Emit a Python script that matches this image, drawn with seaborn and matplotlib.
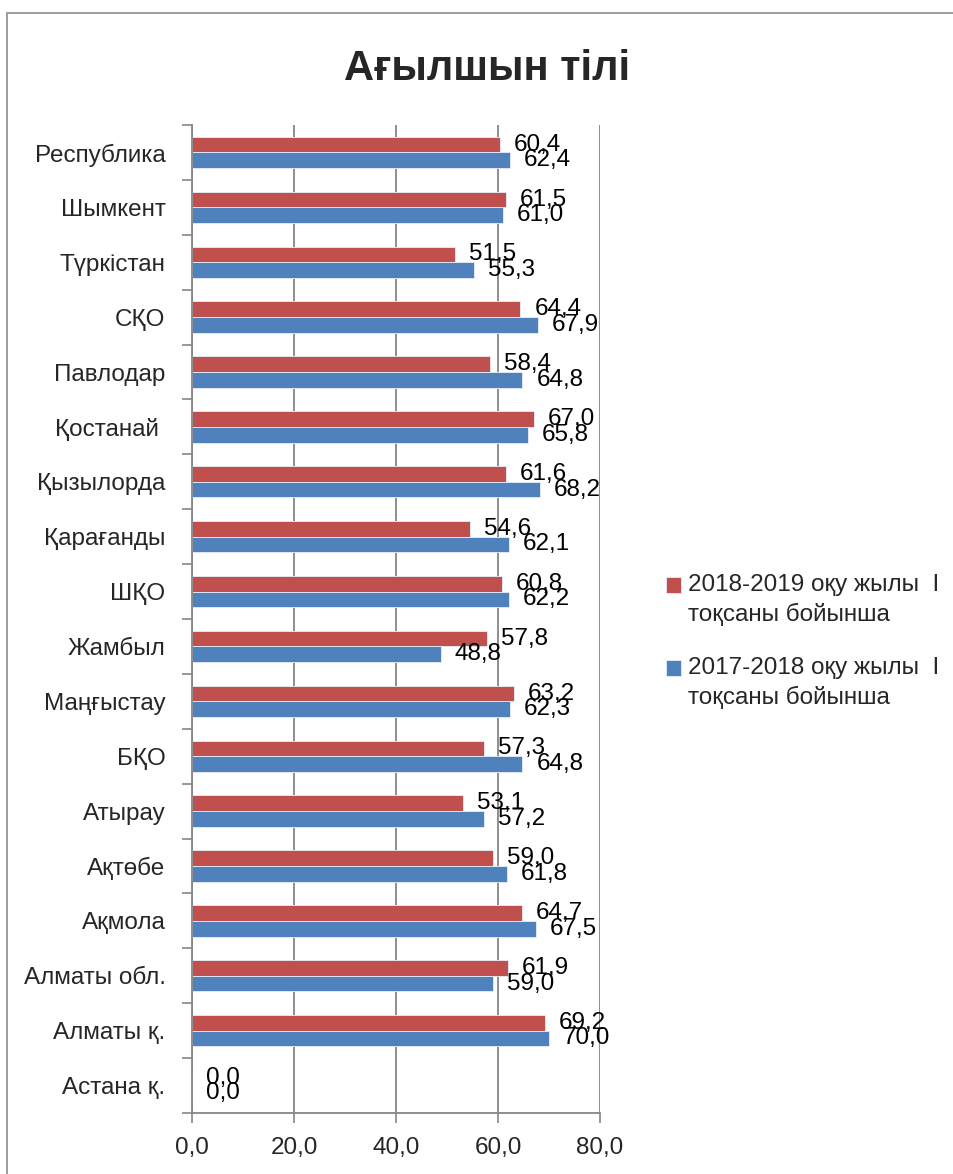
import matplotlib
matplotlib.use("Agg")
import matplotlib.pyplot as plt
import seaborn as sns
import pandas as pd
from matplotlib.patches import Rectangle
from matplotlib.legend_handler import HandlerPatch
from matplotlib.ticker import FixedLocator, FuncFormatter

# ---------------- data ----------------
regions = ["Республика", "Шымкент", "Түркістан", "СҚО", "Павлодар", "Қостанай ",
           "Қызылорда", "Қарағанды", "ШҚО", "Жамбыл", "Маңғыстау", "БҚО",
           "Атырау", "Ақтөбе", "Ақмола", "Алматы обл.", "Алматы қ.", "Астана қ."]
vals_2018_2019 = [60.4, 61.5, 51.5, 64.4, 58.4, 67.0, 61.6, 54.6, 60.8, 57.8,
                  63.2, 57.3, 53.1, 59.0, 64.7, 61.9, 69.2, 0.0]
vals_2017_2018 = [62.4, 61.0, 55.3, 67.9, 64.8, 65.8, 68.2, 62.1, 62.2, 48.8,
                  62.3, 64.8, 57.2, 61.8, 67.5, 59.0, 70.0, 0.0]
series_names = ["2018-2019 оқу жылы  I\nтоқсаны бойынша",
                "2017-2018 оқу жылы  I\nтоқсаны бойынша"]
series_colors = ["#C0504D", "#4F81BD"]
x_ticks = [0, 20, 40, 60, 80]
title = "Ағылшын тілі"

df = pd.DataFrame({
    "region": regions * 2,
    "value": vals_2018_2019 + vals_2017_2018,
    "series": [series_names[0]] * len(regions) + [series_names[1]] * len(regions),
})

# ---------------- style ----------------
sns.set_theme(style="white")
plt.rcParams["font.family"] = ["Liberation Sans", "DejaVu Sans"]
FS = 17.5
GRID = "#868686"

fig = plt.figure(figsize=(9.54, 11.74), dpi=100)
fig.patch.set_facecolor("white")

# outer chart border
fig.add_artist(Rectangle((7 / 954, -0.05), 1.0, 1 - 13 / 1174 + 0.05,
                         transform=fig.transFigure, fill=False,
                         edgecolor="#8c8c8c", linewidth=1.2))

ax = fig.add_axes([192 / 954, 1 - 1113 / 1174, 408 / 954, 988 / 1174])

sns.barplot(data=df, y="region", x="value", hue="series", orient="h",
            hue_order=series_names, palette=series_colors, width=0.57,
            gap=0, ax=ax, legend=True, saturation=1,
            edgecolor="#e8eef7", linewidth=0.6)

# data labels
for cont in ax.containers:
    labs = [f"{v:.1f}".replace(".", ",") for v in cont.datavalues]
    ax.bar_label(cont, labels=labs, padding=10, fontsize=FS, color="black")

ax.set_xlim(0, 80)
ax.set_ylim(len(regions) - 0.5, -0.5)
ax.set_xlabel("")
ax.set_ylabel("")

ax.xaxis.set_major_locator(FixedLocator(x_ticks))
ax.xaxis.set_major_formatter(FuncFormatter(lambda v, p: f"{v:.1f}".replace(".", ",")))
ax.tick_params(axis="x", which="major", direction="out", length=7, width=1.2,
               color=GRID, labelsize=FS, pad=10, bottom=True)
ax.xaxis.grid(True, color=GRID, linewidth=1.3)
ax.yaxis.grid(False)

ax.set_yticks(range(len(regions)))
ax.set_yticklabels(regions)
ax.yaxis.set_minor_locator(FixedLocator([i - 0.5 for i in range(len(regions) + 1)]))
ax.tick_params(axis="y", which="major", length=0, labelsize=FS, pad=19)
ax.tick_params(axis="y", which="minor", direction="out", length=7, width=1.2,
               color=GRID, left=True)

for s in ["top", "right"]:
    ax.spines[s].set_visible(False)
for s in ["left", "bottom"]:
    ax.spines[s].set_color(GRID)
    ax.spines[s].set_linewidth(1.3)

# title
fig.text(487 / 954, 1 - 69 / 1174, title, ha="center", va="center",
         fontsize=30, fontweight="bold")

# legend (square aligned to first line of each label)
handles, labels = ax.get_legend_handles_labels()
ax.get_legend().remove()


def top_square(legend, orig_handle, xdescent, ydescent, width, height, fontsize):
    return Rectangle((-xdescent, -ydescent + 0.62 * fontsize), width, height)


leg = fig.legend(handles, labels, loc="upper left",
                 bbox_to_anchor=(666 / 954, 1 - 574 / 1174),
                 frameon=False, fontsize=FS, handlelength=0.62, handleheight=0.62,
                 handletextpad=0.3, labelspacing=1.3, borderpad=0,
                 borderaxespad=0,
                 handler_map={h: HandlerPatch(patch_func=top_square) for h in handles})
for t in leg.get_texts():
    t.set_linespacing(1.35)

fig.savefig("out.png", dpi=100, facecolor="white")
